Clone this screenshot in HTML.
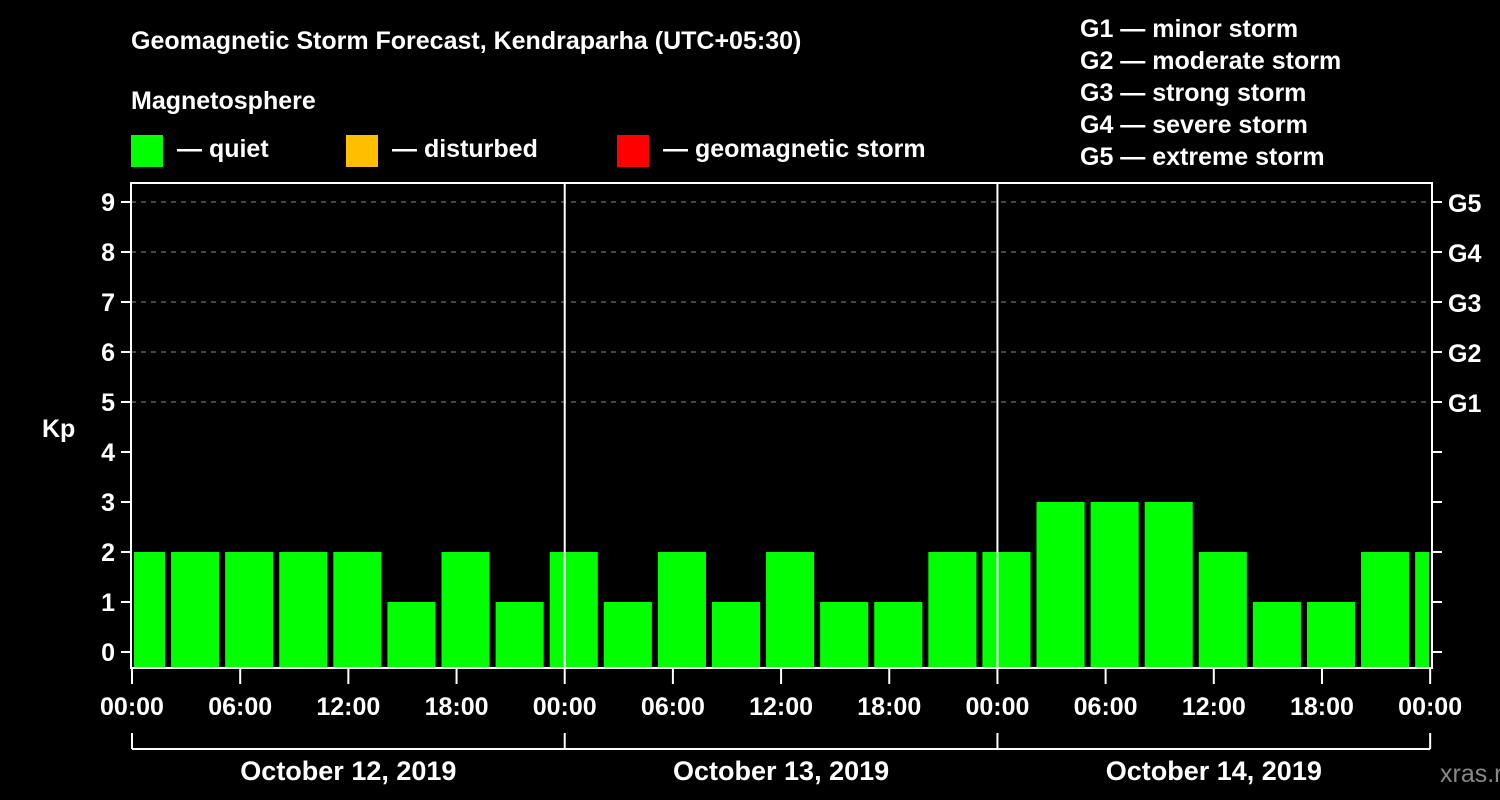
<!DOCTYPE html>
<html><head><meta charset="utf-8"><style>
html,body{margin:0;padding:0;background:#000;}
svg{display:block;font-family:"Liberation Sans",Arial,sans-serif;font-weight:bold;}
</style></head><body>
<svg width="1500" height="800" viewBox="0 0 1500 800">
<g id="static" fill="#fff" font-size="25">
<text x="131" y="49">Geomagnetic Storm Forecast, Kendraparha (UTC+05:30)</text>
<text x="131" y="109">Magnetosphere</text>
<rect x="131" y="135" width="32" height="32" fill="#00ff00"/>
<text x="177" y="157">— quiet</text>
<rect x="346" y="135" width="32" height="32" fill="#ffbf00"/>
<text x="392" y="157">— disturbed</text>
<rect x="617" y="135" width="32" height="32" fill="#ff0000"/>
<text x="663" y="157">— geomagnetic storm</text>
<text x="1080" y="37">G1 — minor storm</text>
<text x="1080" y="69">G2 — moderate storm</text>
<text x="1080" y="101">G3 — strong storm</text>
<text x="1080" y="133">G4 — severe storm</text>
<text x="1080" y="165">G5 — extreme storm</text>
<text x="42" y="437">Kp</text>
<text x="1440" y="782" fill="#888" font-weight="normal">xras.ru</text>
</g>
<g id="chart"></g>
</svg>
<script>
const kpValues=[2,2,2,2,2,1,2,1,2,1,2,1,2,1,1,2,2,3,3,3,2,1,1,2,2];
const hourTickLabels=["00:00","06:00","12:00","18:00"];
const dayLabels=["October 12, 2019","October 13, 2019","October 14, 2019"];
const gLabels=["G1","G2","G3","G4","G5"];
const kpTicks=[0,1,2,3,4,5,6,7,8,9];
const NS="http://www.w3.org/2000/svg";
const L=131,R=1432,T=183,B=668,X0=132,PXH=18.03;
const xH=h=>X0+h*PXH;
const yK=k=>652-50*k;
const g=document.getElementById('chart');
function mk(tag,attrs,txt){const e=document.createElementNS(NS,tag);for(const k in attrs)e.setAttribute(k,attrs[k]);if(txt!==undefined)e.textContent=txt;g.appendChild(e);return e;}
// gridlines
kpTicks.forEach(k=>{if(k>=5){const l=mk('line',{x1:L,x2:R,y1:yK(k),y2:yK(k),stroke:'#888','stroke-dasharray':'5,5','stroke-width':1});

}});
// bars
kpValues.forEach((v,i)=>{const s=-1+3*i;let x1=xH(s)+3,x2=xH(s+3)-3;x1=Math.max(x1,L+3);x2=Math.min(x2,R-3);
const c=v>=5?'#ff0000':(v>=4?'#ffbf00':'#00ff00');
const r=mk('rect',{x:x1,y:yK(v),width:x2-x1,height:B-yK(v),fill:c});

});
// day separators
[1,2].forEach(d=>{const l=mk('line',{x1:xH(24*d),x2:xH(24*d),y1:T,y2:B,stroke:'#fff','stroke-width':2});

});
// frame
const f=mk('rect',{x:L,y:T,width:R-L,height:B-T,fill:'none',stroke:'#fff','stroke-width':2});


// y ticks
kpTicks.forEach(k=>{const y=yK(k);
mk('line',{x1:L-10,x2:L,y1:y,y2:y,stroke:'#fff','stroke-width':2});
mk('line',{x1:R,x2:R+10,y1:y,y2:y,stroke:'#fff','stroke-width':2});
const t=mk('text',{x:L-16,y:y+9,fill:'#fff','font-size':25,'text-anchor':'end'},String(k));

});
gLabels.forEach((gl,i)=>{const t=mk('text',{x:1448,y:yK(5+i)+10,fill:'#fff','font-size':25},gl);

});
// x ticks
for(let h=0;h<=72;h+=6){const x=xH(h);
mk('line',{x1:x,x2:x,y1:B,y2:B+16,stroke:'#fff','stroke-width':2});
const t=mk('text',{x:x,y:715,fill:'#fff','font-size':25,'text-anchor':'middle'},hourTickLabels[(h/6)%4]);

}
// day brackets
mk('line',{x1:xH(0),x2:xH(72),y1:749,y2:749,stroke:'#fff','stroke-width':2});
for(let d=0;d<=3;d++){const x=xH(24*d);mk('line',{x1:x,x2:x,y1:733,y2:749,stroke:'#fff','stroke-width':2});}
dayLabels.forEach((dl,i)=>{const t=mk('text',{x:xH(24*i+12),y:780,fill:'#fff','font-size':27,'text-anchor':'middle'},dl);

});
</script>
</body></html>
